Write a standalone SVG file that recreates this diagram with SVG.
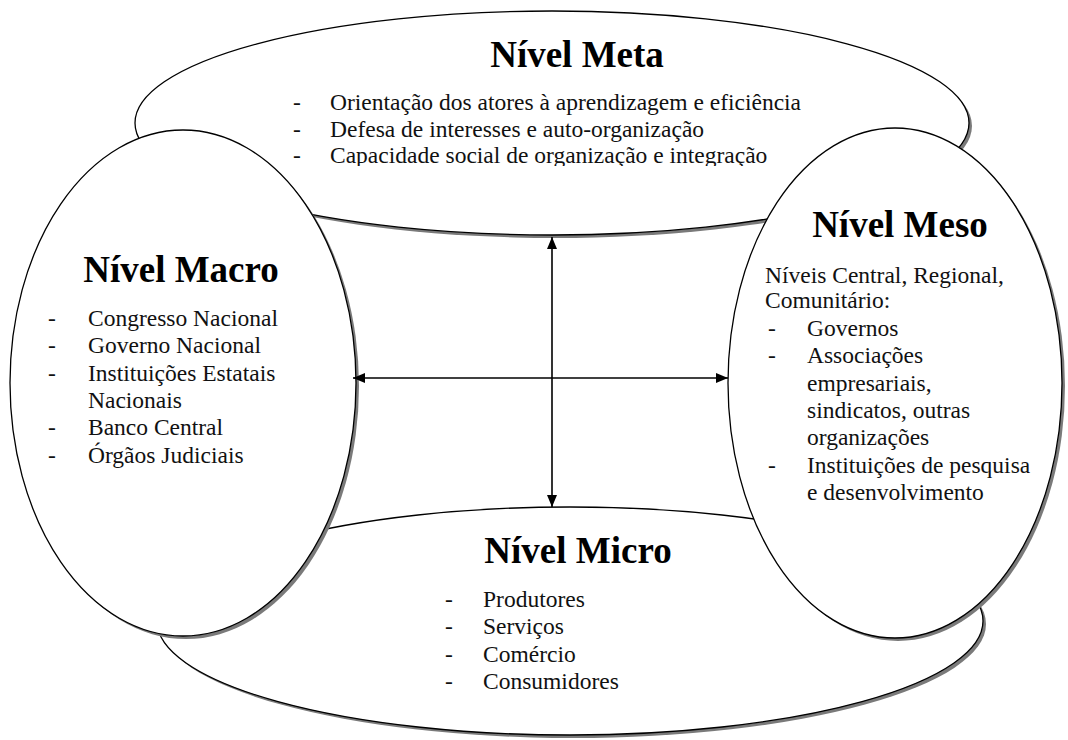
<svg xmlns="http://www.w3.org/2000/svg" width="1068" height="740" viewBox="0 0 1068 740">
  <style>
    text { font-family: 'Liberation Serif', 'DejaVu Serif', 'Noto Serif', Times, serif; }
    .shadow { fill: #7a7a7a; stroke: none; }
    .shape { fill: #ffffff; stroke: #000000; stroke-width: 1.3; }
    .title { font-weight: bold; font-size: 37px; fill: #000000; }
    .body { font-size: 23.5px; fill: #111111; }
    .link { stroke: #000000; stroke-width: 1.6; fill: none; marker-start: url(#head); marker-end: url(#head); }
  </style>
  <defs>
    <marker id="head" viewBox="0 0 12 10" refX="12" refY="5" markerWidth="12" markerHeight="10" markerUnits="userSpaceOnUse" orient="auto-start-reverse">
      <path d="M0,0 L12,5 L0,10 Z" fill="#000000"/>
    </marker>
    <clipPath id="metaClip">
      <rect x="280" y="80" width="560" height="86"/>
    </clipPath>
  </defs>

  <!-- Meta level: wide ellipse at the top -->
  <g id="nivel-meta">
    <ellipse class="shadow" cx="555" cy="126" rx="417" ry="112"/>
    <ellipse class="shape" cx="552" cy="123" rx="417" ry="112"/>
    <text class="title" x="577" y="67" text-anchor="middle" style="font-family: 'Liberation Serif', serif">Nível Meta</text>
    <g class="body" clip-path="url(#metaClip)">
      <text x="293" y="110">-</text>
      <text x="330" y="110">Orientação dos atores à aprendizagem e eficiência</text>
      <text x="293" y="137">-</text>
      <text x="330" y="137">Defesa de interesses e auto-organização</text>
      <text x="293" y="163">-</text>
      <text x="330" y="163">Capacidade social de organização e integração</text>
    </g>
  </g>

  <!-- Micro level: wide ellipse at the bottom -->
  <g id="nivel-micro">
    <ellipse class="shadow" cx="573" cy="624" rx="413" ry="114"/>
    <ellipse class="shape" cx="570" cy="621" rx="413" ry="114"/>
    <text class="title" x="578" y="563" text-anchor="middle">Nível Micro</text>
    <g class="body">
      <text x="445" y="607">-</text>
      <text x="483" y="607">Produtores</text>
      <text x="445" y="634">-</text>
      <text x="483" y="634">Serviços</text>
      <text x="445" y="662">-</text>
      <text x="483" y="662">Comércio</text>
      <text x="445" y="689">-</text>
      <text x="483" y="689">Consumidores</text>
    </g>
  </g>

  <!-- Macro level: tall ellipse on the left -->
  <g id="nivel-macro">
    <ellipse class="shadow" cx="186" cy="386" rx="173" ry="253"/>
    <ellipse class="shape" cx="183" cy="383" rx="173" ry="253"/>
    <text class="title" x="181" y="282" text-anchor="middle">Nível Macro</text>
    <g class="body">
      <text x="48" y="326">-</text>
      <text x="88" y="326">Congresso Nacional</text>
      <text x="48" y="353">-</text>
      <text x="88" y="353">Governo Nacional</text>
      <text x="48" y="381">-</text>
      <text x="88" y="381">Instituições Estatais</text>
      <text x="88" y="408">Nacionais</text>
      <text x="48" y="435">-</text>
      <text x="88" y="435">Banco Central</text>
      <text x="48" y="463">-</text>
      <text x="88" y="463">Órgãos Judiciais</text>
    </g>
  </g>

  <!-- Meso level: tall ellipse on the right -->
  <g id="nivel-meso">
    <ellipse class="shadow" cx="898" cy="386" rx="167" ry="255"/>
    <ellipse class="shape" cx="895" cy="383" rx="167" ry="255"/>
    <text class="title" x="900" y="237" text-anchor="middle">Nível Meso</text>
    <g class="body">
      <text x="765" y="283">Níveis Central, Regional,</text>
      <text x="765" y="308">Comunitário:</text>
      <text x="768" y="336">-</text>
      <text x="807" y="336">Governos</text>
      <text x="768" y="363">-</text>
      <text x="807" y="363">Associações</text>
      <text x="807" y="391">empresariais,</text>
      <text x="807" y="418">sindicatos, outras</text>
      <text x="807" y="445">organizações</text>
      <text x="768" y="473">-</text>
      <text x="807" y="473">Instituições de pesquisa</text>
      <text x="807" y="500">e desenvolvimento</text>
    </g>
  </g>

  <!-- Two-way arrows linking the four levels -->
  <g id="connectors">
    <line class="link" x1="552" y1="237" x2="552" y2="507"/>
    <line class="link" x1="353" y1="378" x2="728" y2="378"/>
  </g>
</svg>
